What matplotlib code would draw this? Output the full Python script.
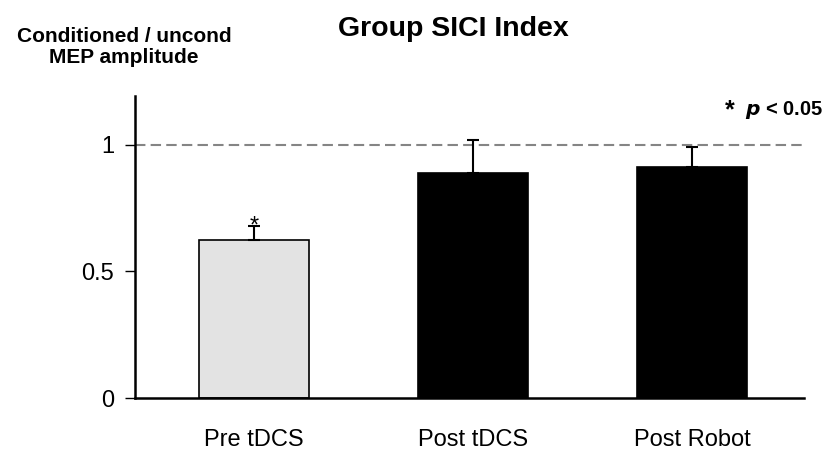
import numpy as np
import matplotlib.pyplot as plt

plt.rcParams['font.family'] = ['Liberation Sans', 'DejaVu Sans']

# data
conditions = ['Pre tDCS', 'Post tDCS', 'Post Robot']
sici_mean = [0.624, 0.889, 0.913]
sici_err = [0.055, 0.13, 0.08]
bar_colors = ['#e3e3e3', 'black', 'black']
significant = [True, False, False]
ref_level = 1.0

fig = plt.figure(figsize=(8.28, 4.53), dpi=100)
ax = fig.add_axes([0.163, 0.1214, 0.808, 0.667])

x = np.arange(len(conditions))
ax.bar(x, sici_mean, width=0.5, color=bar_colors, edgecolor='black', lw=1.2, zorder=2)
# only the upper half of the error bar is shown
ax.errorbar(x, sici_mean, yerr=[np.zeros(len(x)), sici_err], fmt='none',
            ecolor='black', elinewidth=1.5, capsize=4.3, capthick=1.5, zorder=3)

ax.axhline(ref_level, color='#858585', lw=1.5, ls=(0, (5, 2.5)), zorder=1)

# significance stars
for xi, m, e, s in zip(x, sici_mean, sici_err, significant):
    if s:
        ax.text(xi, m + e - 0.045, '*', ha='center', va='bottom', fontsize=17)

ax.set_xlim(-0.543, 2.51)
ax.set_ylim(0, 1.194)
ax.set_yticks([0, 0.5, 1])
ax.set_yticklabels(['0', '0.5', '1'])
ax.set_xticks(x)
ax.set_xticklabels(conditions)
ax.tick_params(axis='x', length=0, pad=22, labelsize=17)
ax.tick_params(axis='y', length=7, width=1, pad=8, labelsize=17)
ax.spines['top'].set_visible(False)
ax.spines['right'].set_visible(False)
ax.spines['left'].set_linewidth(1.8)
ax.spines['bottom'].set_linewidth(1.8)

fig.text(0.547, 0.935, 'Group SICI Index', ha='center', va='center',
         fontsize=20.5, fontweight='bold')
fig.text(0.15, 0.897, 'Conditioned / uncond\nMEP amplitude', ha='center', va='center',
         fontsize=15, fontweight='bold', linespacing=1.15)
fig.text(0.876, 0.757, '*', ha='left', va='center', fontsize=18, fontweight='bold')
fig.text(0.9, 0.757, r'$\boldsymbol{p}$ < 0.05', ha='left', va='center',
         fontsize=14.5, fontweight='bold')

fig.savefig('out.png', dpi=100)
